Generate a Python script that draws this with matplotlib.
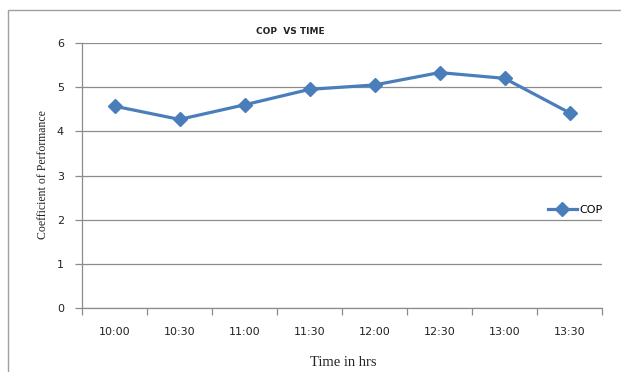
import numpy as np
import matplotlib
matplotlib.use('Agg')
import matplotlib.pyplot as plt
from matplotlib.patches import Rectangle

times = ['10:00', '10:30', '11:00', '11:30', '12:00', '12:30', '13:00', '13:30']
cop = [4.57, 4.27, 4.60, 4.95, 5.05, 5.33, 5.20, 4.42]

W, H = 621, 372
fig = plt.figure(figsize=(W / 100, H / 100), dpi=100)

# outer chart border (only left and top edges are visible in the crop)
fig.patches.append(Rectangle((8 / W, -0.1), 1.2, 1 - 10 / H + 0.1, transform=fig.transFigure,
                             fill=False, edgecolor='#a0a0a0', linewidth=1.0))

ax = fig.add_axes([82 / W, 1 - 308 / H, (602 - 82) / W, (308 - 43) / H])
x = np.arange(len(times))
ax.plot(x, cop, color='#4a7ebb', linewidth=2.3, marker='D', markersize=7, label='COP')

ax.set_xlim(-0.5, len(times) - 0.5)
ax.set_ylim(0, 6)
ax.set_yticks(range(0, 7))
ax.yaxis.grid(True, color='#8c8c8c', linewidth=0.9)
ax.set_axisbelow(True)

ax.set_xticks(x)
ax.set_xticklabels(times, fontsize=8)
ax.set_xticks(np.arange(-0.5, len(times)), minor=True)
ax.tick_params(axis='x', which='major', length=0, pad=14, labelcolor='#222222')
ax.tick_params(axis='x', which='minor', length=5, color='#8c8c8c', width=0.9)
ax.tick_params(axis='y', length=5, color='#8c8c8c', width=0.9, labelsize=8, pad=8,
               labelcolor='#222222')

for s in ['top', 'right']:
    ax.spines[s].set_visible(False)
for s in ['left', 'bottom']:
    ax.spines[s].set_color('#8c8c8c')
    ax.spines[s].set_linewidth(0.9)

fig.text(290 / W, 1 - 32 / H, 'COP  VS TIME', ha='center', va='center', fontsize=6.5,
         fontweight='bold', color='#222222')
fig.text(43 / W, 1 - 175 / H, 'Coefficient of Performance', rotation=90, ha='center', va='center',
         fontsize=8.5, family='Liberation Serif', color='#222222')
fig.text(343 / W, 1 - 362 / H, 'Time in hrs', ha='center', va='center', fontsize=10.5,
         family='Liberation Serif', color='#222222')

fig.legend(loc='center left', bbox_to_anchor=(548 / W, 1 - 210 / H), frameon=False,
           fontsize=8, handlelength=2.6, handletextpad=0.2, borderpad=0, borderaxespad=0)

fig.savefig('out.png', dpi=100)
